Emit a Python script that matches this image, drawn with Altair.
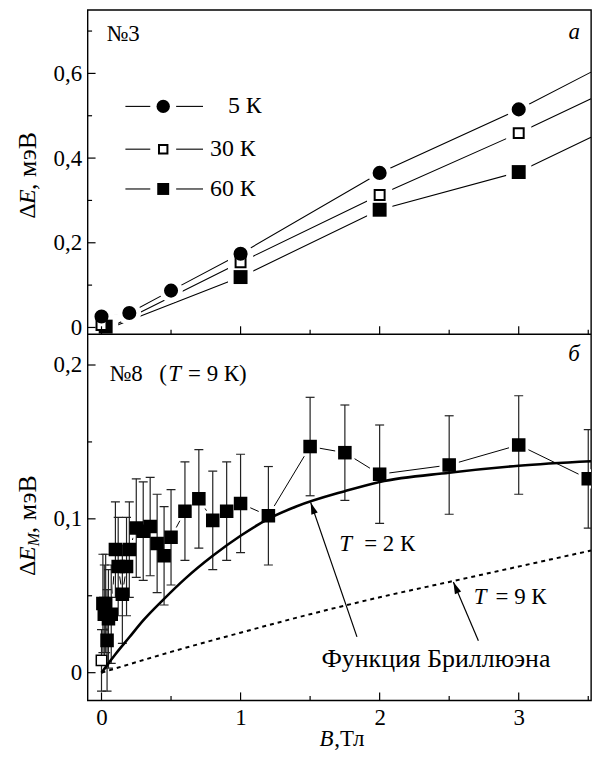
import altair as alt
import pandas as pd

FONT = "Liberation Serif, Times New Roman, Times, serif"
W, H1, H2 = 506, 326, 368
H = H1 + H2
XDOM = [-0.1, 3.52]
Y1DOM = [-0.016, 0.75]
Y2DOM = [-0.018, 0.22]

# ---------------- panel a (sample №3) ----------------
B_5K = [0.0, 0.2, 0.5, 1.0, 2.0, 3.0]
E_5K = [0.026, 0.034, 0.087, 0.174, 0.365, 0.515]
B_30K = [0.0, 1.0, 2.0, 3.0]
E_30K = [0.006, 0.154, 0.313, 0.459]
B_60K = [0.03, 1.0, 2.0, 3.0]
E_60K = [0.002, 0.119, 0.278, 0.367]
# polylines as drawn in the figure
LB_5K = [0.0, 0.2, 0.5, 1.0, 2.0, 3.0, 3.52]
LE_5K = [0.026, 0.034, 0.087, 0.174, 0.365, 0.515, 0.603]
LB_30K = [0.06, 1.0, 2.0, 3.0, 3.52]
LE_30K = [0.0, 0.154, 0.313, 0.459, 0.540]
LB_60K = [0.07, 1.0, 2.0, 3.0, 3.52]
LE_60K = [0.0, 0.119, 0.278, 0.367, 0.449]
LEGEND_LABELS = ["5 К", "30 К", "60 К"]

# ---------------- panel б (sample №8, T = 9 K) ----------------
BM = [0.01, 0.02, 0.03, 0.04, 0.05, 0.07, 0.10, 0.12, 0.15, 0.18, 0.20,
      0.25, 0.30, 0.35, 0.40, 0.45, 0.50, 0.60, 0.70, 0.80, 0.90, 1.00,
      1.20, 1.50, 1.75, 2.00, 2.50, 3.00, 3.50]
EM = [0.045, 0.038, 0.045, 0.021, 0.035, 0.038, 0.080, 0.069, 0.051, 0.069, 0.080,
      0.094, 0.092, 0.095, 0.084, 0.076, 0.088, 0.105, 0.113, 0.099, 0.105, 0.110,
      0.102, 0.147, 0.143, 0.129, 0.135, 0.148, 0.126]
ERR = [0.032, 0.032, 0.032, 0.033, 0.032, 0.032, 0.031, 0.032, 0.032, 0.032, 0.031,
       0.032, 0.032, 0.032, 0.032, 0.032, 0.031, 0.032, 0.032, 0.032, 0.032, 0.032,
       0.032, 0.032, 0.031, 0.032, 0.032, 0.032, 0.032]
B_OPEN = [0.0]
E_OPEN = [0.008]
ERR_OPEN = [0.02]
# Brillouin function curves
BR2_B = [0.0, 0.05, 0.1, 0.2, 0.3, 0.45, 0.6, 0.8, 1.0, 1.2, 1.4, 1.75, 2.0, 2.5, 3.0, 3.52]
BR2_E = [0.0, 0.006, 0.012, 0.023, 0.034, 0.048, 0.061, 0.076, 0.089, 0.100, 0.108,
         0.118, 0.124, 0.130, 0.1345, 0.1374]
BR9_B = [0.0, 0.5, 1.0, 1.5, 2.0, 2.5, 3.0, 3.52]
BR9_E = [0.0, 0.0135, 0.026, 0.038, 0.049, 0.059, 0.069, 0.0794]
# annotation arrows (tip / tail, in data units)
ARROW_TIP_B = [1.504, 2.53]
ARROW_TIP_E = [0.1107, 0.059]
ARROW_TAIL_B = [1.837, 2.71]
ARROW_TAIL_E = [0.0233, 0.0207]
ARROW_ANGLE = [341, 337]

X_MAJOR = [0, 1, 2, 3]
X_MINOR = [0.5, 1.5, 2.5, 3.5]
Y1_MAJOR = [0, 0.2, 0.4, 0.6]
Y1_MINOR = [0.1, 0.3, 0.5, 0.7]
Y2_MAJOR = [0, 0.1, 0.2]
Y2_MINOR = [0.05, 0.15]

LABEL_EXPR = "datum.value == 0 ? '0' : replace(format(datum.value, '.1f'), '.', ',')"

X = alt.X("B:Q", scale=alt.Scale(domain=XDOM, nice=False, zero=False),
          axis=alt.Axis(values=X_MAJOR, title=None, labelPadding=6, format="d"))


def yenc(dom, rng, vals, field="E"):
    return alt.Y(f"{field}:Q", scale=alt.Scale(domain=dom, range=rng, nice=False, zero=False),
                 axis=alt.Axis(values=vals, title=None, labelExpr=LABEL_EXPR, labelPadding=6,
                               orient="left"))


YT = yenc(Y1DOM, [H1, 0], Y1_MAJOR)
YB = yenc(Y2DOM, [H, H1], Y2_MAJOR)
dummy = pd.DataFrame({"d": [0]})


def txt(s, x, y, size=23, italic=False, align="left", baseline="middle", angle=None):
    kw = dict(font=FONT, fontSize=size, color="black", align=align, baseline=baseline)
    if italic:
        kw["fontStyle"] = "italic"
    if angle is not None:
        kw["angle"] = angle
    return alt.Chart(pd.DataFrame({"t": [s]})).mark_text(**kw).encode(
        text="t:N", x=alt.value(x), y=alt.value(y))


def yticks(Y, ymaj, ymin):
    return [
        alt.Chart(pd.DataFrame({"E": ymaj})).mark_rule(color="black", strokeWidth=1.2).encode(
            y=Y, x=alt.value(0), x2=alt.value(8)),
        alt.Chart(pd.DataFrame({"E": ymin})).mark_rule(color="black", strokeWidth=1.2).encode(
            y=Y, x=alt.value(0), x2=alt.value(4.5)),
    ]


def xticks(ybase):
    return [
        alt.Chart(pd.DataFrame({"B": X_MAJOR})).mark_rule(color="black", strokeWidth=1.2).encode(
            x=X, y=alt.value(ybase), y2=alt.value(ybase - 8)),
        alt.Chart(pd.DataFrame({"B": X_MINOR})).mark_rule(color="black", strokeWidth=1.2).encode(
            x=X, y=alt.value(ybase), y2=alt.value(ybase - 4.5)),
    ]


# ---------- top panel ----------
lines_top = pd.concat([
    pd.DataFrame({"B": LB_5K, "E": LE_5K, "s": "5", "o": range(len(LB_5K))}),
    pd.DataFrame({"B": LB_30K, "E": LE_30K, "s": "30", "o": range(len(LB_30K))}),
    pd.DataFrame({"B": LB_60K, "E": LE_60K, "s": "60", "o": range(len(LB_60K))}),
])
p5 = pd.DataFrame({"B": B_5K, "E": E_5K})
p30 = pd.DataFrame({"B": B_30K, "E": E_30K})
p60 = pd.DataFrame({"B": B_60K, "E": E_60K})

top_layers = [
    alt.Chart(lines_top).mark_line(color="black", strokeWidth=1.1).encode(
        x=X, y=YT, detail="s:N", order="o:Q"),
    alt.Chart(p5).mark_point(shape="circle", filled=True, color="white", opacity=1, size=560).encode(x=X, y=YT),
    alt.Chart(pd.concat([p30, p60])).mark_point(shape="square", filled=True, color="white", opacity=1, size=640).encode(x=X, y=YT),
    alt.Chart(p60).mark_point(shape="square", filled=True, color="black", opacity=1, size=196).encode(x=X, y=YT),
    alt.Chart(p30).mark_point(shape="square", filled=True, fill="white", stroke="black", strokeWidth=2, opacity=1, size=100).encode(x=X, y=YT),
    alt.Chart(p5).mark_point(shape="circle", filled=True, color="black", opacity=1, size=200).encode(x=X, y=YT),
]
top_layers += yticks(YT, Y1_MAJOR, Y1_MINOR)
top_layers += xticks(H1)

# legend
rows_y = [97, 140, 180]
shapes = [dict(shape="circle", filled=True, color="black", size=180),
          dict(shape="square", filled=True, fill="white", stroke="black", strokeWidth=2, size=72),
          dict(shape="square", filled=True, color="black", size=144)]
for i, ry in enumerate(rows_y):
    top_layers.append(alt.Chart(dummy).mark_rule(color="black", strokeWidth=1.1).encode(
        x=alt.value(38), x2=alt.value(63), y=alt.value(ry)))
    top_layers.append(alt.Chart(dummy).mark_rule(color="black", strokeWidth=1.1).encode(
        x=alt.value(89), x2=alt.value(116), y=alt.value(ry)))
    top_layers.append(alt.Chart(dummy).mark_point(opacity=1, **shapes[i]).encode(
        x=alt.value(76), y=alt.value(ry)))
    if i == 0:
        top_layers.append(txt(LEGEND_LABELS[i], 175, ry, size=24, align="right"))
    else:
        top_layers.append(txt(LEGEND_LABELS[i], 123, ry, size=24))

top_layers += [
    txt("№3", 19, 24),
    txt("а", 489, 22, italic=True, align="center"),
    txt("Δ", -60, 210, size=24, angle=270),
    txt("E", -60, 195, size=24, italic=True, angle=270),
    txt(" , мэВ", -60, 181, size=26, angle=270),
]

top = alt.layer(*top_layers)

# ---------- bottom panel ----------
dm = pd.DataFrame({"B": BM, "E": EM, "err": ERR, "o": range(len(BM))})
dop = pd.DataFrame({"B": B_OPEN, "E": E_OPEN, "err": ERR_OPEN})
derr = pd.concat([dm[["B", "E", "err"]], dop])
dbr2 = pd.DataFrame({"B": BR2_B, "E": BR2_E})
dbr9 = pd.DataFrame({"B": BR9_B, "E": BR9_E})
darr = pd.DataFrame({"B": ARROW_TAIL_B, "E": ARROW_TAIL_E, "B2": ARROW_TIP_B, "E2": ARROW_TIP_E})

ERRC = "#222222"
base_err = alt.Chart(derr).transform_calculate(lo="datum.E - datum.err", hi="datum.E + datum.err")
YLO = yenc(Y2DOM, [H, H1], Y2_MAJOR, field="lo")
YHI = yenc(Y2DOM, [H, H1], Y2_MAJOR, field="hi")

bot_layers = [
    alt.Chart(dm).mark_line(color="black", strokeWidth=1).encode(x=X, y=YB, order="o:Q"),
    alt.Chart(derr).mark_point(shape="square", filled=True, color="white", opacity=1, size=380, clip=True).encode(x=X, y=YB),
    base_err.mark_rule(color=ERRC, strokeWidth=1.2, clip=True).encode(x=X, y=YLO, y2="hi:Q"),
    base_err.mark_tick(orient="horizontal", size=9, thickness=1.2, color=ERRC, opacity=1, clip=True).encode(x=X, y=YLO),
    base_err.mark_tick(orient="horizontal", size=9, thickness=1.2, color=ERRC, opacity=1, clip=True).encode(x=X, y=YHI),
    alt.Chart(dbr9).mark_line(color="black", strokeWidth=2, strokeDash=[4, 4], interpolate="monotone").encode(x=X, y=YB),
    alt.Chart(dbr2).mark_line(color="black", strokeWidth=2.6, interpolate="monotone").encode(x=X, y=YB),
    alt.Chart(darr).mark_rule(color="black", strokeWidth=1.2).encode(x=X, y=YB, x2="B2:Q", y2="E2:Q"),
    alt.Chart(dop).mark_point(shape="square", filled=True, fill="white", stroke="black", strokeWidth=1.5, opacity=1, size=110).encode(x=X, y=YB),
    alt.Chart(dm).mark_point(shape="square", filled=True, color="black", opacity=1, size=185, clip=True).encode(x=X, y=YB),
]
for i in range(len(ARROW_TIP_B)):
    da = pd.DataFrame({"B": [ARROW_TIP_B[i]], "E": [ARROW_TIP_E[i]]})
    bot_layers.append(alt.Chart(da).mark_point(
        shape="M0,0 L0.45,1.6 L-0.45,1.6 Z", filled=True, color="black", opacity=1,
        size=225, angle=ARROW_ANGLE[i]).encode(x=X, y=YB))
bot_layers += yticks(YB, Y2_MAJOR, Y2_MINOR)
bot_layers += xticks(H)
o = H1
bot_layers += [
    alt.Chart(dummy).mark_rule(color="black", strokeWidth=1.4).encode(
        x=alt.value(0), x2=alt.value(W), y=alt.value(H1)),
    txt("№8", 22, o + 40),
    txt("(", 72, o + 40),
    txt("T", 81, o + 40, italic=True),
    txt("= 9 К)", 101, o + 40),
    txt("б", 489, o + 20, italic=True, align="center"),
    txt("T", 253, o + 211, italic=True),
    txt("= 2 К", 278, o + 211),
    txt("T", 388, o + 264, italic=True),
    txt("= 9 К", 410, o + 264),
    txt("Функция Бриллюэна", 235, o + 326, size=26),
    txt("B", 233, o + 407, italic=True),
    txt(",Тл", 248, o + 407),
    txt("Δ", -60, o + 243, size=24, angle=270),
    txt("E", -60, o + 228, size=24, italic=True, angle=270),
    txt("M", -54, o + 213, size=16, italic=True, angle=270),
    txt(" , мэВ", -60, o + 200, size=26, angle=270),
]

bottom = alt.layer(*bot_layers)

chart = alt.layer(top, bottom).resolve_scale(y="independent").properties(
    width=W, height=H,
    padding={"left": 7, "top": 0, "right": 0, "bottom": 0}
).configure_view(stroke="black", strokeWidth=1.4).configure_axis(
    domain=False, ticks=False, grid=False, labelFont=FONT, labelFontSize=23, labelColor="black"
)

chart.save("out.html", embed_options={"renderer": "svg", "actions": False})
